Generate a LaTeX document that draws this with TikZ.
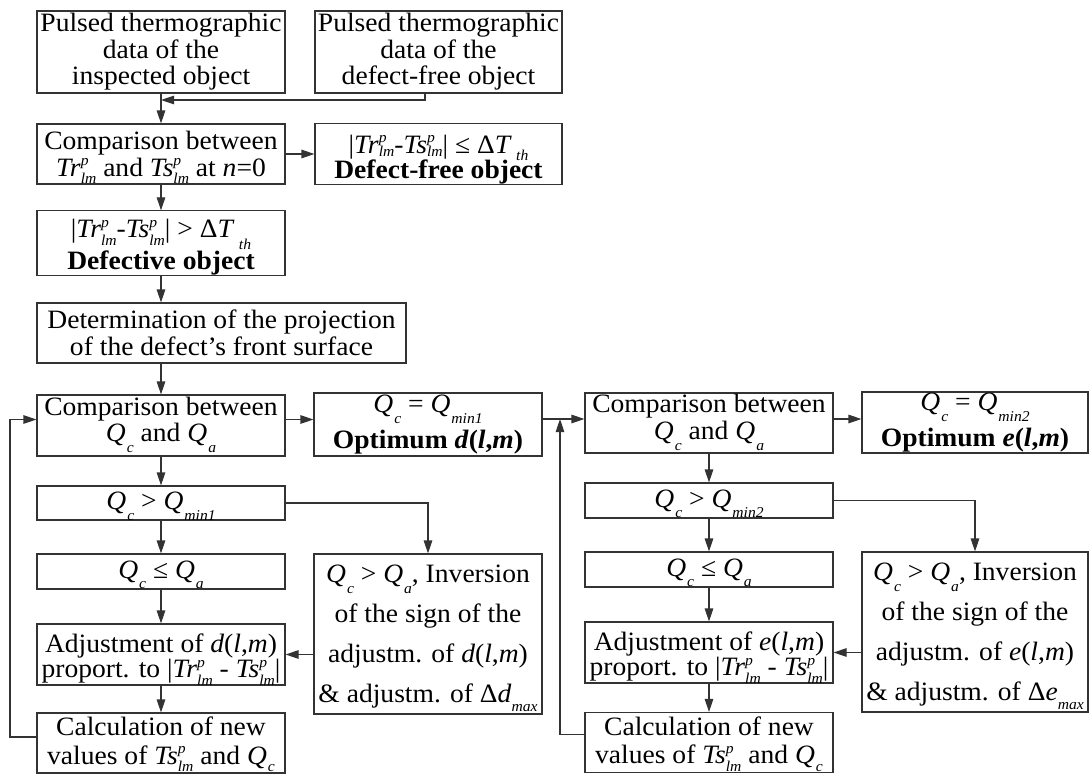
\documentclass[tikz,border=0pt]{standalone}
\usepackage{fontspec}
\setmainfont{Liberation Serif}[FakeStretch=1.04]
\usetikzlibrary{arrows.meta}

% small italic indices (they take no vertical room)
\newcommand\sml[1]{{\fontsize{15}{15}\selectfont #1}}
\newcommand\idx[2]{\raisebox{#1}[0pt][0pt]{\sml{\textit{#2}}}}
% temperature with stacked p over lm (optional: drop of lm)
\newcommand\Tlm[2][-0.28em]{\textit{#2}\makebox[0pt][l]{\idx{0.4em}{p}}\idx{#1}{lm}}
% criterion with lowered index (optional: drop of the index)
\newcommand\Qs[2][-0.4em]{\textit{Q}\kern1pt\idx{#1}{#2}}
% threshold (optional: drop of th)
\newcommand\dTth[1][-0.45em]{Δ\textit{T}\,\idx{#1}{th}}
% struts to set the text block lower or higher in its box
\newcommand\topstrut[1]{\rule{0pt}{#1}}
\newcommand\botstrut[1]{\rule[-#1]{0pt}{#1}}

\tikzset{
  every node/.style={font=\fontsize{26.5}{26.5}\selectfont},
  box/.style={draw=black!80, line width=1.1pt, rectangle, inner sep=0pt, align=center},
  arr/.style={draw=black!80, line width=1.1pt, -{Triangle[length=13pt,width=8.5pt]}},
}

\begin{document}
\begin{tikzpicture}[x=1pt,y=-1pt]
\useasboundingbox (0,0) rectangle (1090,774);

% ---- upper part
\node[box, minimum width=248, minimum height=82] (A) at (161,52)
  {Pulsed thermographic\\data of the\\inspected object};
\node[box, minimum width=247, minimum height=82] (B) at (438.5,52)
  {Pulsed thermographic\\data of the\\defect-free object};
\node[box, minimum width=248, minimum height=60] (C) at (161,154)
  {Comparison between\\\Tlm{Tr} and \Tlm{Ts} at \textit{n}=0};
\node[box, minimum width=247, minimum height=60] (D) at (438.5,154)
  {\topstrut{30pt}|\Tlm[-0.12em]{Tr}-\Tlm[-0.12em]{Ts}| ≤ \dTth[-0.25em]\\[-1pt]\textbf{Defect-free object}};
\node[box, minimum width=248, minimum height=60] (E) at (161,243)
  {\topstrut{27pt}|\Tlm{Tr}-\Tlm{Ts}| > \dTth\\[5pt]\textbf{Defective object}};
\node[box, minimum width=369, minimum height=60] (F) at (221.5,333)
  {Determination of the projection\\of the defect's front surface};

% ---- left loop (d)
\node[box, minimum width=248, minimum height=61] (G) at (161,425.5)
  {Comparison between\\\Qs{c} and \Qs{a}\botstrut{12pt}};
\node[box, minimum width=228, minimum height=63] (H) at (428,424.5)
  {\Qs{c} = \Qs{min1}\\[9pt]\textbf{Optimum \textit{d}(\textit{l},\textit{m})}};
\node[box, minimum width=248, minimum height=34] (I) at (161,503)
  {\Qs{c} > \Qs{min1}};
\node[box, minimum width=248, minimum height=35] (J) at (161,571.5)
  {\Qs{c} ≤ \Qs{a}};
\node[box, minimum width=248, minimum height=61] (K) at (161,654.5)
  {\topstrut{27pt}Adjustment of \textit{d}(\textit{l},\textit{m})\\[-1pt]proport. to |\Tlm{Tr} - \Tlm{Ts}|};
\node[box, minimum width=248, minimum height=60] (L) at (161,743)
  {Calculation of new\\[2pt]values of \Tlm{Ts} and \Qs[-0.28em]{c}\botstrut{4pt}};
\node[box, minimum width=228, minimum height=160,
      font=\fontsize{26.5}{40}\selectfont] (M) at (428,634)
  {\topstrut{23pt}\Qs{c} > \Qs{a}, Inversion\\of the sign of the\\adjustm. of \textit{d}(\textit{l},\textit{m})\\\& adjustm. of Δ\textit{d}\idx{-0.35em}{max}};

% ---- right loop (e)
\node[box, minimum width=248, minimum height=60] (N) at (709,423)
  {Comparison between\\\Qs{c} and \Qs{a}\botstrut{12pt}};
\node[box, minimum width=226, minimum height=61] (O) at (975,422.5)
  {\Qs{c} = \Qs{min2}\\[9pt]\textbf{Optimum \textit{e}(\textit{l},\textit{m})}};
\node[box, minimum width=248, minimum height=35] (P) at (709,500.5)
  {\Qs{c} > \Qs{min2}};
\node[box, minimum width=248, minimum height=35] (Q) at (709,569.5)
  {\Qs{c} ≤ \Qs{a}};
\node[box, minimum width=248, minimum height=61] (R) at (709,652.5)
  {\topstrut{27pt}Adjustment of \textit{e}(\textit{l},\textit{m})\\[-1pt]proport. to |\Tlm{Tr} - \Tlm{Ts}|};
\node[box, minimum width=248, minimum height=60] (S) at (709,742.5)
  {Calculation of new\\[2pt]values of \Tlm{Ts} and \Qs[-0.28em]{c}\botstrut{4pt}};
\node[box, minimum width=226, minimum height=160,
      font=\fontsize{26.5}{40}\selectfont] (T) at (975,632)
  {\topstrut{23pt}\Qs{c} > \Qs{a}, Inversion\\of the sign of the\\adjustm. of \textit{e}(\textit{l},\textit{m})\\\& adjustm. of Δ\textit{e}\idx{-0.35em}{max}};

% junction points
\coordinate (j1) at (161,100);
\coordinate (j2) at (560,419);
\coordinate (lx) at (10,0);

% ---- connectors, upper part
\draw[arr] ([xshift=-13.5]B.south) |- (j1);
\draw[arr] (A.south) -- (C.north);
\draw[arr] (C.east) -- (D.west);
\draw[arr] (C.south) -- (E.north);
\draw[arr] (E.south) -- (E.south |- F.north);
\draw[arr] (E.south |- F.south) -- (G.north);

% ---- connectors, left loop
\draw[arr] ([yshift=6]G.east) -- ([yshift=6]G.east -| H.west);
\draw[arr] (G.south) -- (I.north);
\draw[arr] (I.south) -- (J.north);
\draw[arr] (J.south) -- (K.north);
\draw[arr] (K.south) -- (L.north);
\draw[arr] (I.east) -| (M.north);
\draw[arr] (M.west |- K.east) -- (K.east);
\draw[arr] ([yshift=6]L.west) -| (lx |- G.west) |- ([yshift=6]G.west);

% ---- connectors, right loop
\draw[arr] (j2 -| H.east) -- (j2 -| N.west);
\draw[arr] ([yshift=8]S.west) -| (j2);
\draw[arr] (j2 -| N.east) -- (j2 -| O.west);
\draw[arr] (N.south) -- (P.north);
\draw[arr] (P.south) -- (Q.north);
\draw[arr] (Q.south) -- (R.north);
\draw[arr] (R.south) -- (S.north);
\draw[arr] (P.east) -| (T.north);
\draw[arr] (T.west |- R.east) -- (R.east);
\end{tikzpicture}
\end{document}
